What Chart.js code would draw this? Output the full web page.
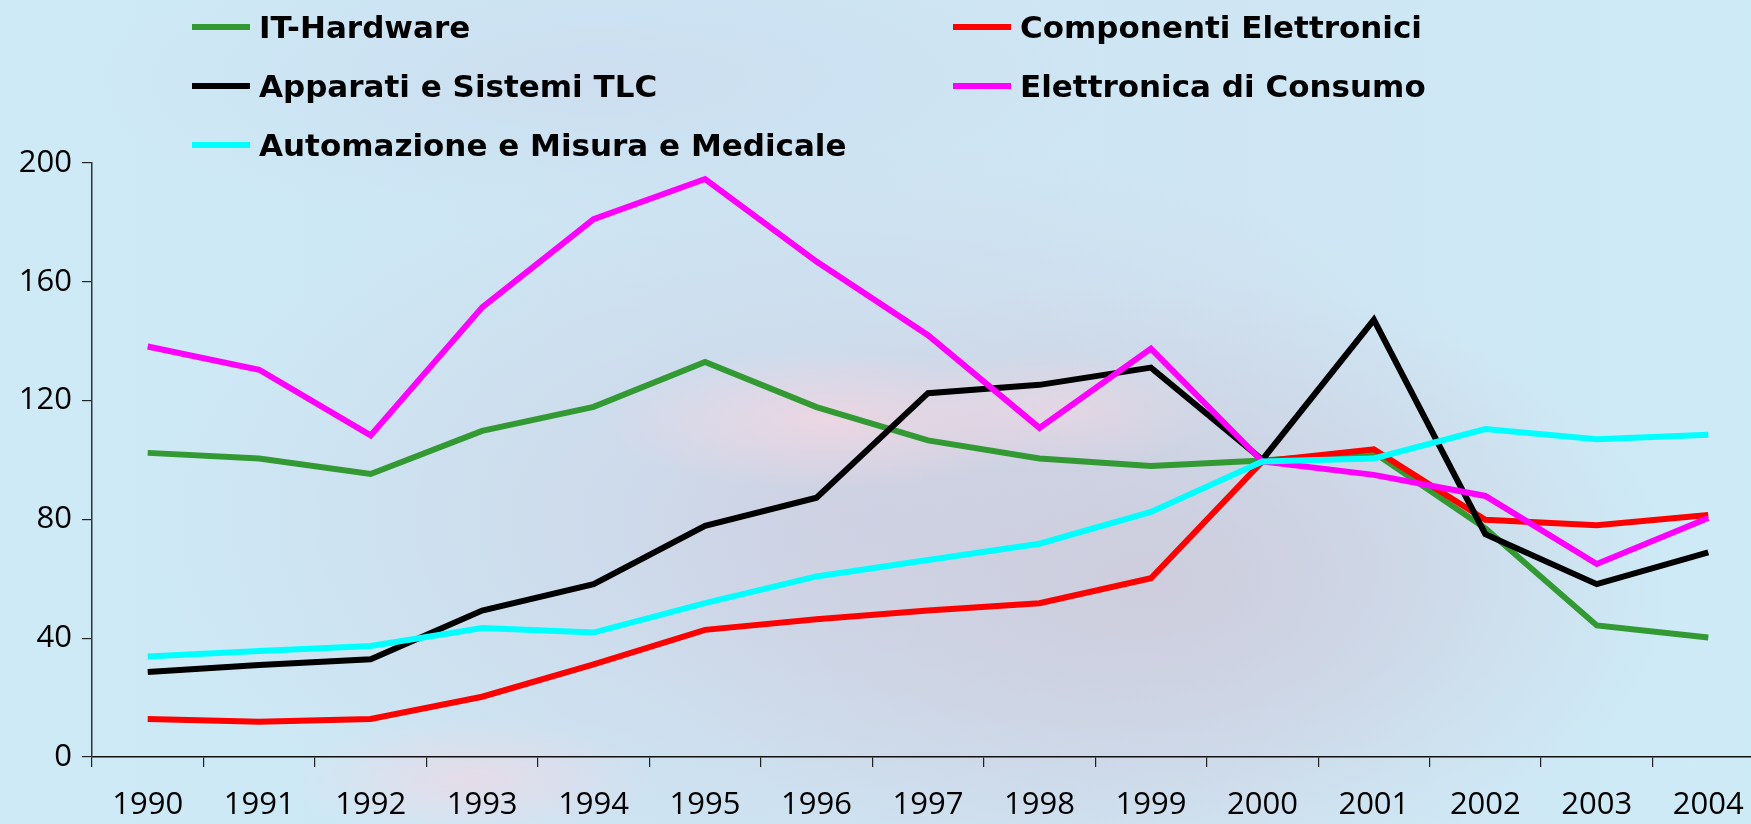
<!DOCTYPE html>
<html>
<head>
<meta charset="utf-8">
<script src="https://cdn.jsdelivr.net/npm/chart.js@4.4.1/dist/chart.umd.min.js"></script>
<style>
  html, body { margin: 0; padding: 0; width: 1751px; height: 824px; overflow: hidden; }
  body {
    position: relative;
    background:
      radial-gradient(ellipse 230px 70px at 830px 420px, rgba(246,214,226,0.75), rgba(246,214,226,0)),
      radial-gradient(ellipse 160px 60px at 1060px 410px, rgba(246,214,226,0.55), rgba(246,214,226,0)),
      radial-gradient(ellipse 180px 60px at 470px 780px, rgba(245,214,226,0.6), rgba(245,214,226,0)),
      radial-gradient(ellipse 520px 300px at 1150px 580px, rgba(205,204,220,0.95), rgba(205,204,220,0)),
      radial-gradient(ellipse 700px 380px at 850px 520px, rgba(206,210,228,0.9), rgba(206,210,228,0)),
      radial-gradient(ellipse 500px 150px at 600px 80px, rgba(204,220,238,0.8), rgba(204,220,238,0)),
      linear-gradient(90deg, #cdeaf6 0%, #cde6f4 40%, #cfe5f3 70%, #cdebf7 100%);
  }
  #wrap { position: absolute; left: 0; top: 0; width: 1770px; height: 824px; }
  #legend { position: absolute; left: 0; top: 0; width: 1751px; height: 170px; font-family: "DejaVu Sans", sans-serif; font-weight: bold; font-size: 31px; color: #000; }
  .item { position: absolute; display: flex; align-items: center; white-space: nowrap; transform: translateY(-50%); }
  .swatch { width: 58px; height: 6px; margin-right: 9px; }
</style>
</head>
<body>
<div id="wrap"><canvas id="c" width="1770" height="824"></canvas></div>
<div id="legend"></div>
<script>
const years = ["1990","1991","1992","1993","1994","1995","1996","1997","1998","1999","2000","2001","2002","2003","2004"];
const seriesNames = ["IT-Hardware","Componenti Elettronici","Apparati e Sistemi TLC","Elettronica di Consumo","Automazione e Misura e Medicale"];
const seriesColors = ["#339933","#ff0000","#000000","#ff00ff","#00ffff"];
const itHardware   = [102.4,100.5,95.3,109.8,117.9,133.0,117.8,106.6,100.5,98.0,99.8,102.5,77.0,44.3,40.2];
const componenti   = [12.8,11.9,12.8,20.3,31.2,42.8,46.4,49.3,51.8,60.2,99.5,103.6,79.9,78.0,81.5];
const apparatiTLC  = [28.6,31.0,32.9,49.3,58.2,77.8,87.3,122.5,125.3,131.1,100.1,147.2,75.0,58.2,68.9];
const consumo      = [138.2,130.4,108.3,151.4,181.1,194.6,166.8,142.0,110.8,137.5,99.5,95.0,87.9,65.0,80.5];
const automazione  = [33.8,35.7,37.4,43.4,41.9,51.8,60.8,66.3,71.8,82.5,99.5,100.5,110.4,107.0,108.5];
const yTicks = [0,40,80,120,160,200];

const seriesValues = [itHardware, componenti, apparatiTLC, consumo, automazione];

// legend (2 columns, row-major)
const legendCols = [192, 953];
const legendRows = [27, 86, 145];
const legendEl = document.getElementById('legend');
seriesNames.forEach((name, i) => {
  const it = document.createElement('div');
  it.className = 'item';
  it.style.left = legendCols[i % 2] + 'px';
  it.style.top = legendRows[Math.floor(i / 2)] + 'px';
  const sw = document.createElement('div');
  sw.className = 'swatch';
  sw.style.background = seriesColors[i];
  const tx = document.createElement('span');
  tx.textContent = name;
  it.appendChild(sw); it.appendChild(tx);
  legendEl.appendChild(it);
});

const datasets = seriesNames.map((name, i) => ({
  label: name,
  data: seriesValues[i],
  borderColor: seriesColors[i],
  backgroundColor: seriesColors[i],
  borderWidth: 6,
  pointRadius: 0,
  pointHoverRadius: 0,
  tension: 0,
  fill: false,
  order: seriesNames.length - i
}));

const tickFont = { family: "'Open Sans', sans-serif", size: 31 };

new Chart(document.getElementById('c'), {
  type: 'line',
  data: { labels: years, datasets },
  options: {
    responsive: false,
    animation: false,
    devicePixelRatio: 1,
    layout: { padding: { top: 163, right: 6, left: 0, bottom: 0 } },
    plugins: { legend: { display: false }, tooltip: { enabled: false } },
    scales: {
      x: {
        offset: true,
        grid: { offset: true, drawOnChartArea: false, drawTicks: true, tickLength: 10, color: '#222', lineWidth: 1.2 },
        border: { display: true, color: '#111', width: 1.5 },
        ticks: { color: '#000', font: tickFont, padding: 20, maxRotation: 0, autoSkip: false },
        afterFit: (s) => { s.height = 67; }
      },
      y: {
        min: 0, max: 200,
        afterBuildTicks: (s) => { s.ticks = yTicks.map(v => ({ value: v })); },
        grid: { drawOnChartArea: false, drawTicks: true, tickLength: 10, color: '#222', lineWidth: 1.2 },
        border: { display: true, color: '#333', width: 1.5 },
        ticks: { color: '#000', font: tickFont, padding: 10 },
        afterFit: (s) => { s.width = 92; }
      }
    }
  }
});
</script>
</body>
</html>
